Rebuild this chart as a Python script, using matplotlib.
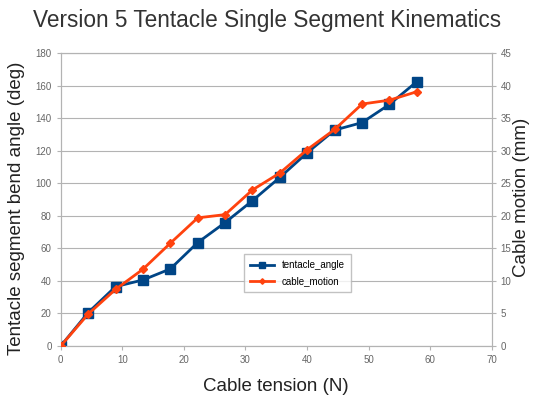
import matplotlib
matplotlib.use("Agg")
import matplotlib.pyplot as plt

plt.rcParams["font.family"] = ["Liberation Sans", "DejaVu Sans"]

# cable tension in N (1 lb steps)
tension = [0, 4.45, 8.9, 13.35, 17.8, 22.25, 26.7, 31.15, 35.6, 40.05, 44.5, 48.95, 53.4, 57.85]
tentacle_angle = [0, 20.5, 36.5, 40.6, 47.4, 63.6, 75.9, 89.4, 103.7, 118.9, 132.8, 137.4, 148.6, 162.6]
cable_motion = [0, 4.9, 8.7, 11.8, 15.8, 19.7, 20.2, 24.0, 26.6, 30.2, 33.3, 37.2, 37.8, 39.1]

blue = "#004586"
red = "#ff420e"
grey = "#666666"

fig = plt.figure(figsize=(5.35, 3.97), dpi=100)
ax = fig.add_axes([0.1135, 0.1285, 0.8055, 0.7372])
ax2 = ax.twinx()

l1, = ax.plot(tension, tentacle_angle, color=blue, lw=2, marker="s", ms=7,
              label="tentacle_angle", zorder=3)
l2, = ax2.plot(tension, cable_motion, color=red, lw=2, marker="D", ms=4,
               label="cable_motion", zorder=3)

ax.set_xlim(0, 70)
ax.set_ylim(0, 180)
ax2.set_ylim(0, 45)
ax.set_xticks(range(0, 71, 10))
ax.set_yticks(range(0, 181, 20))
ax2.set_yticks(range(0, 46, 5))
ax.yaxis.grid(True, color="#b3b3b3", lw=0.8)
ax.set_axisbelow(True)

for a in (ax, ax2):
    for s in a.spines.values():
        s.set_color("#b3b3b3")
    a.tick_params(labelsize=7, colors="#b3b3b3", labelcolor=grey, length=3, width=0.8)

fig.text(0.5, 1 - 21 / 397, "Version 5 Tentacle Single Segment Kinematics",
         fontsize=16.3, ha="center", va="center", color="#333333")
ax.set_xlabel("Cable tension (N)", fontsize=13.5, color="#222222")
ax.set_ylabel("Tentacle segment bend angle (deg)", fontsize=13.5, color="#222222")
ax2.set_ylabel("Cable motion (mm)", fontsize=13.5, color="#222222")
ax.xaxis.set_label_coords(0.5, -0.11)
ax.yaxis.set_label_coords(-0.084, 0.47)
ax2.yaxis.set_label_coords(1.05, 0.509)

ax2.legend([l1, l2], ["tentacle_angle", "cable_motion"], fontsize=7,
           loc="lower left", bbox_to_anchor=(0.425, 0.1845), borderaxespad=0,
           frameon=True, fancybox=False, edgecolor="#b3b3b3", handlelength=2.5,
           borderpad=0.6, labelspacing=0.6, markerscale=0.7)

fig.savefig("out.png", dpi=100)
